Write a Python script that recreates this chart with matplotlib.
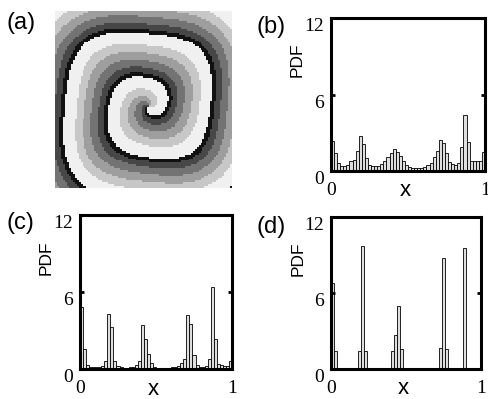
import numpy as np
import matplotlib
matplotlib.use('Agg')
import matplotlib.pyplot as plt
from matplotlib.transforms import ScaledTranslation

# histogram values, 50 bins on [0, 1]
pdf_b = [2.35, 1.4, 0.6, 0.4, 0.4, 0.5, 0.75, 0.85, 1.6, 2.75,
         2.1, 1.05, 0.45, 0.4, 0.4, 0.4, 0.55, 0.75, 1.1, 1.45,
         1.7, 1.5, 1.15, 0.75, 0.45, 0.3, 0.2, 0.2, 0.2, 0.25,
         0.35, 0.5, 0.6, 1.1, 1.6, 2.4, 2.2, 1.4, 0.7, 0.55,
         0.5, 0.6, 1.9, 4.4, 2.3, 0.8, 0.8, 0.8, 0.8, 1.5]
pdf_c = [4.8, 1.55, 0.35, 0.15, 0.12, 0.12, 0.15, 0.2, 0.6, 4.3,
         3.3, 0.6, 0.2, 0.12, 0.1, 0.1, 0.12, 0.15, 0.3, 0.65,
         3.4, 2.3, 1.2, 0.45, 0.15, 0.1, 0.08, 0.08, 0.08, 0.1,
         0.12, 0.15, 0.25, 0.45, 0.75, 4.2, 3.5, 1.1, 0.3, 0.15,
         0.12, 0.2, 0.75, 6.4, 2.3, 0.4, 0.3, 0.25, 0.2, 0.6]
pdf_d = [6.8, 1.4, 0, 0, 0, 0, 0, 0, 0, 1.4,
         9.7, 1.4, 0, 0, 0, 0, 0, 0, 0, 0,
         1.4, 2.7, 5.0, 1.6, 0, 0, 0, 0, 0, 0,
         0, 0, 0, 0, 0, 0, 1.65, 8.8, 1.6, 0,
         0, 0, 0, 0, 9.55, 0, 0, 0, 0, 0]

n_bins = 50
yticks = [0, 6, 12]

# spiral snapshot for panel (a)
grid_n = 90
spiral_center = (0.53, 0.46)
wavelength = 0.25
phase_shift = 0.6
band_edges = [0.09, 0.22, 0.38, 0.55, 0.73]
band_grays = [0.07, 0.28, 0.45, 0.62, 0.78, 0.94]

serif = 'Liberation Serif'
sans = 'Liberation Sans'


def spiral_image():
    g = (np.arange(grid_n) + 0.5) / grid_n
    X, Y = np.meshgrid(g, g)
    dx = X - spiral_center[0]
    dy = Y - spiral_center[1]
    r2 = np.hypot(dx, dy)
    p = 2 + 1.2 * np.clip(r2 / 0.45, 0, 1)
    r = (np.abs(dx) ** p + np.abs(dy) ** p) ** (1 / p)
    theta = np.arctan2(dy, dx)
    frac = np.mod(-theta / (2 * np.pi) + r / wavelength + phase_shift, 1.0)
    idx = np.digitize(frac, band_edges)
    return np.array(band_grays)[idx]


def draw_pdf(ax, vals):
    edges = np.linspace(0, 1, n_bins + 1)
    ax.bar(edges[:-1], vals, width=1 / n_bins, align='edge',
           facecolor='#dedede', edgecolor='black', linewidth=0.6)
    ax.set_xlim(0, 1)
    ax.set_ylim(0, 12)
    ax.set_yticks(yticks)
    ax.set_xticks([0, 1])
    ax.set_xticklabels(['0', '1'], fontfamily=serif, fontsize=14)
    ax.set_yticklabels([str(t) for t in yticks], fontfamily=serif, fontsize=14)
    for lab in ax.get_yticklabels():
        lab.set_verticalalignment('top')
    xl = ax.get_xticklabels()
    xl[1].set_transform(xl[1].get_transform() + ScaledTranslation(-2 / 100, 0, fig.dpi_scale_trans))
    ax.tick_params(axis='y', direction='in', length=3, width=2, right=True, pad=5)
    ax.tick_params(axis='x', length=0, pad=8)
    for s in ax.spines.values():
        s.set_linewidth(2.2)
    ax.text(-0.22, 0.725, 'PDF', rotation=90, transform=ax.transAxes,
            ha='center', va='center', fontfamily=sans, fontsize=12.5)
    ax.text(0.48, -0.13, 'x', transform=ax.transAxes,
            ha='center', va='center', fontfamily=sans, fontsize=16)


fig = plt.figure(figsize=(4.88, 3.99), dpi=100)

ax_a = fig.add_axes([0.1107, 0.5288, 0.3648, 0.4436])
ax_a.imshow(spiral_image(), cmap='gray', vmin=0, vmax=1, origin='lower',
            interpolation='nearest', extent=[0, 1, 0, 1])
ax_a.axis('off')

ax_b = fig.add_axes([0.6783, 0.5714, 0.3156, 0.3835])
draw_pdf(ax_b, pdf_b)
ax_c = fig.add_axes([0.1639, 0.0752, 0.3115, 0.386])
draw_pdf(ax_c, pdf_c)
ax_d = fig.add_axes([0.6783, 0.0752, 0.307, 0.381])
draw_pdf(ax_d, pdf_d)

for lab, x, y in [('(a)', 6, 12), ('(b)', 257, 16), ('(c)', 6, 212), ('(d)', 257, 216)]:
    fig.text(x / 488, 1 - y / 399, lab, ha='left', va='top',
             fontfamily=sans, fontsize=17)

fig.savefig('out.png', dpi=100)
